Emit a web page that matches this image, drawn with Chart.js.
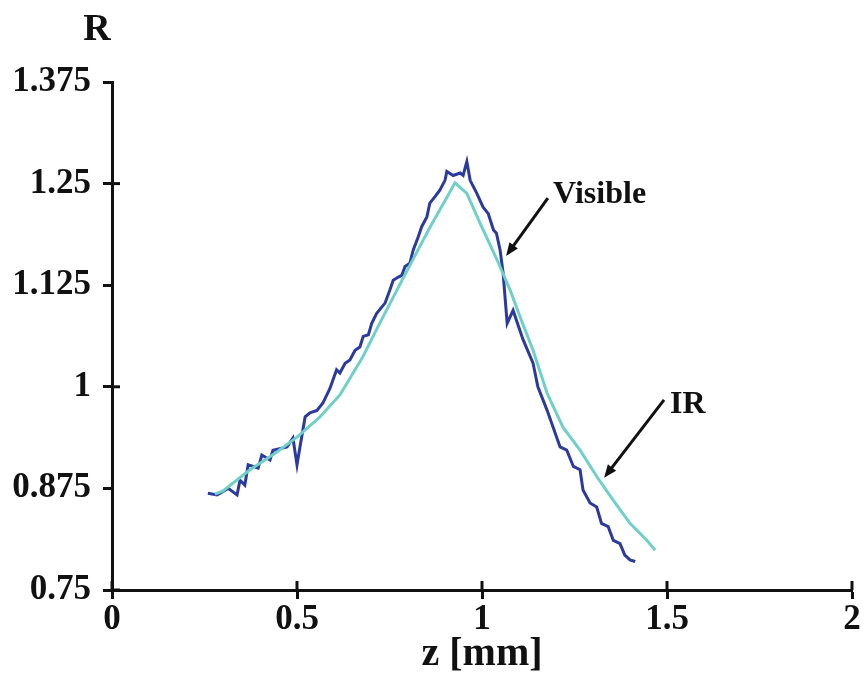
<!DOCTYPE html>
<html>
<head>
<meta charset="utf-8">
<script src="https://cdn.jsdelivr.net/npm/chart.js@4/dist/chart.umd.min.js"></script>
<style>
  html, body { margin: 0; padding: 0; background: #fff; }
  #wrap { width: 866px; height: 679px; }
</style>
</head>
<body>
<div id="wrap"><canvas id="chart" width="866" height="679"></canvas></div>
<script>
// R versus z, visible and IR profiles
const visibleZ = [0.259, 0.284, 0.314, 0.338, 0.346, 0.359, 0.368, 0.395, 0.405, 0.427, 0.435, 0.473, 0.489, 0.5, 0.508, 0.522, 0.535, 0.554, 0.57, 0.589,
  0.607, 0.616, 0.63, 0.643, 0.657, 0.67, 0.679, 0.693, 0.702, 0.715, 0.729, 0.738, 0.751, 0.76, 0.774, 0.783, 0.792, 0.805, 0.814, 0.828, 0.837, 0.851, 0.859, 0.873, 0.886, 0.9, 0.905, 0.922, 0.941, 0.949, 0.959,
  0.968, 0.986, 1.003, 1.017, 1.031, 1.039, 1.049, 1.057, 1.068, 1.084, 1.111, 1.138, 1.151, 1.176,
  1.211, 1.229, 1.247, 1.265, 1.273, 1.292, 1.31, 1.323, 1.341, 1.355, 1.373, 1.386, 1.4, 1.414];
const visibleR = [0.869, 0.867, 0.875, 0.867, 0.885, 0.879, 0.904, 0.9, 0.916, 0.91, 0.922, 0.926, 0.937, 0.904, 0.926, 0.963, 0.968, 0.971, 0.98, 0.998,
  1.021, 1.017, 1.029, 1.033, 1.045, 1.049, 1.062, 1.064, 1.078, 1.09, 1.098, 1.103, 1.119, 1.131, 1.135, 1.137, 1.148, 1.152, 1.168, 1.185, 1.197, 1.209, 1.226, 1.234, 1.242, 1.254, 1.265, 1.26, 1.263, 1.26, 1.277,
  1.254, 1.238, 1.221, 1.213, 1.193, 1.189, 1.168, 1.14, 1.078, 1.094, 1.058, 1.029, 1.0, 0.971,
  0.926, 0.922, 0.902, 0.898, 0.873, 0.857, 0.852, 0.832, 0.828, 0.811, 0.807, 0.793, 0.787, 0.785];

const irZ = [0.278, 0.3, 0.373, 0.44, 0.5, 0.56, 0.616, 0.678, 0.72, 0.77, 0.815, 0.859, 0.905, 0.927, 0.959, 0.995, 1.041, 1.076, 1.103, 1.138, 1.176, 1.219, 1.265, 1.311, 1.354, 1.4, 1.446, 1.468];
const irR = [0.868, 0.872, 0.898, 0.918, 0.938, 0.962, 0.99, 1.037, 1.075, 1.119, 1.158, 1.196, 1.233, 1.251, 1.238, 1.201, 1.156, 1.119, 1.086, 1.045, 0.992, 0.95, 0.922, 0.889, 0.861, 0.832, 0.811, 0.799];

const xTicks = [0, 0.5, 1, 1.5, 2];
const xTickLabels = ['0', '0.5', '1', '1.5', '2'];
const yTicks = [0.75, 0.875, 1, 1.125, 1.25, 1.375];
const yTickLabels = ['0.75', '0.875', '1', '1.125', '1.25', '1.375'];
const yCrossTicks = [0.75, 1, 1.25];

// annotation labels and arrows, in data units
const notes = [
  { text: 'Visible', at: [1.192, 1.236], from: [1.178, 1.232], to: [1.065, 1.161] },
  { text: 'IR', at: [1.508, 0.978], from: [1.492, 0.984], to: [1.33, 0.888] }
];

const SERIF = "'Liberation Serif', 'DejaVu Serif', serif";

function toPoints(xs, ys) {
  return xs.map((v, i) => ({ x: v, y: ys[i] }));
}

function drawArrow(ctx, x1, y1, x2, y2) {
  const ang = Math.atan2(y2 - y1, x2 - x1);
  const head = 14, spread = 0.38;
  ctx.beginPath();
  ctx.moveTo(x1, y1);
  ctx.lineTo(x2 - Math.cos(ang) * head * 0.8, y2 - Math.sin(ang) * head * 0.8);
  ctx.stroke();
  ctx.beginPath();
  ctx.moveTo(x2, y2);
  ctx.lineTo(x2 - head * Math.cos(ang - spread), y2 - head * Math.sin(ang - spread));
  ctx.lineTo(x2 - head * Math.cos(ang + spread), y2 - head * Math.sin(ang + spread));
  ctx.closePath();
  ctx.fill();
}

// inner tick halves, the "R" heading and the arrow notes
const extras = {
  id: 'extras',
  afterDraw(chart) {
    const { ctx, scales: { x, y } } = chart;
    ctx.save();
    ctx.strokeStyle = '#111';
    ctx.fillStyle = '#111';
    ctx.lineWidth = 3;
    xTicks.forEach(v => {
      const px = x.getPixelForValue(v);
      ctx.beginPath();
      ctx.moveTo(px, y.bottom);
      ctx.lineTo(px, y.bottom - 9);
      ctx.stroke();
    });
    yCrossTicks.forEach(v => {
      const py = y.getPixelForValue(v);
      ctx.beginPath();
      ctx.moveTo(x.left, py);
      ctx.lineTo(x.left + 8, py);
      ctx.stroke();
    });

    ctx.font = 'bold 38px ' + SERIF;
    ctx.textAlign = 'center';
    ctx.textBaseline = 'middle';
    ctx.fillText('R', x.left - 15, y.top - 52);

    ctx.font = 'bold 32px ' + SERIF;
    ctx.textAlign = 'left';
    notes.forEach(n => {
      ctx.fillText(n.text, x.getPixelForValue(n.at[0]), y.getPixelForValue(n.at[1]));
      drawArrow(ctx,
        x.getPixelForValue(n.from[0]), y.getPixelForValue(n.from[1]),
        x.getPixelForValue(n.to[0]), y.getPixelForValue(n.to[1]));
    });
    ctx.restore();
  }
};

new Chart(document.getElementById('chart'), {
  type: 'scatter',
  data: {
    datasets: [
      {
        label: 'IR',
        data: toPoints(irZ, irR),
        showLine: true,
        borderColor: '#6fd0c8',
        borderWidth: 3,
        pointRadius: 0,
        tension: 0
      },
      {
        label: 'Visible',
        data: toPoints(visibleZ, visibleR),
        showLine: true,
        borderColor: '#2b3a9c',
        borderWidth: 3,
        pointRadius: 0,
        tension: 0
      }
    ]
  },
  options: {
    responsive: false,
    animation: false,
    layout: { padding: { left: 0, right: 14, top: 82, bottom: 0 } },
    plugins: {
      legend: { display: false },
      tooltip: { enabled: false }
    },
    scales: {
      x: {
        type: 'linear',
        min: 0,
        max: 2,
        afterBuildTicks: s => { s.ticks = xTicks.map(v => ({ value: v })); },
        afterFit: s => { s.height = 89; },
        border: { display: true, color: '#111', width: 3 },
        grid: { drawOnChartArea: false, drawTicks: true, tickLength: 9, tickWidth: 3, tickColor: '#111' },
        ticks: {
          autoSkip: false,
          maxRotation: 0,
          padding: 0,
          color: '#111',
          font: { family: SERIF, size: 35, weight: 'bold' },
          callback: (v, i) => xTickLabels[i]
        },
        title: {
          display: true,
          text: 'z [mm]',
          color: '#111',
          padding: { top: 0, bottom: 0 },
          font: { family: SERIF, size: 40, weight: 'bold' }
        }
      },
      y: {
        type: 'linear',
        min: 0.75,
        max: 1.375,
        afterBuildTicks: s => { s.ticks = yTicks.map(v => ({ value: v })); },
        afterFit: s => { s.width = 112; },
        border: { display: true, color: '#111', width: 3 },
        grid: { drawOnChartArea: false, drawTicks: true, tickLength: 9, tickWidth: 3, tickColor: '#111' },
        ticks: {
          autoSkip: false,
          padding: 12,
          color: '#111',
          font: { family: SERIF, size: 35, weight: 'bold' },
          callback: (v, i) => yTickLabels[i]
        }
      }
    }
  },
  plugins: [extras]
});
</script>
</body>
</html>
